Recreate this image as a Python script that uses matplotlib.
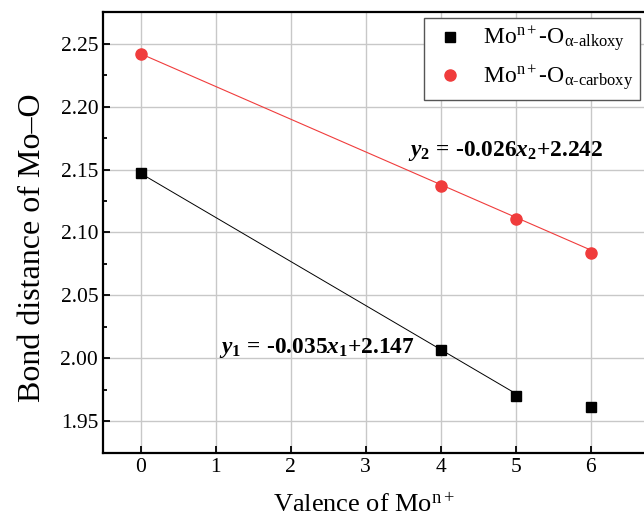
import numpy as np
import matplotlib
matplotlib.use('Agg')
from matplotlib import pyplot as plt

# data
valence = [0, 4, 5, 6]
alkoxy = [2.147, 2.007, 1.970, 1.961]
carboxy = [2.242, 2.137, 2.111, 2.084]

# fitted lines
fit1 = (-0.035, 2.147)
fit2 = (-0.026, 2.242)

plt.rcParams['font.family'] = 'Liberation Serif'
plt.rcParams['mathtext.fontset'] = 'custom'
plt.rcParams['mathtext.rm'] = 'Liberation Serif'
plt.rcParams['mathtext.it'] = 'Liberation Serif:italic'
plt.rcParams['mathtext.bf'] = 'Liberation Serif:bold'
plt.rcParams['mathtext.bfit'] = 'Liberation Serif:italic:bold'

fig = plt.figure(figsize=(6.44, 5.29), dpi=100)
ax = fig.add_axes([0.16, 0.144, 0.845, 0.833])

red = '#f03c3c'

xs1 = np.array([0, 5])
ax.plot(xs1, fit1[0] * xs1 + fit1[1], color='black', lw=0.7, zorder=2)
xs2 = np.array([0, 6])
ax.plot(xs2, fit2[0] * xs2 + fit2[1], color=red, lw=0.8, zorder=2)

ax.plot(valence, alkoxy, 's', color='black', ms=6.5, ls='none', zorder=3,
        label=r'Mo$^{\mathrm{n+}}$-O$_{\mathrm{\alpha\text{-alkoxy}}}$')
ax.plot(valence, carboxy, 'o', color=red, ms=8, ls='none', zorder=3,
        label=r'Mo$^{\mathrm{n+}}$-O$_{\mathrm{\alpha\text{-carboxy}}}$')

ax.text(1.05, 2.008, r'$\mathbfit{y}_\mathbf{1}\mathbf{\,=\,‐0.035}\mathbfit{x}_\mathbf{1}\mathbf{+2.147}$',
        fontsize=16.8, va='center', ha='left')
ax.text(3.56, 2.165, r'$\mathbfit{y}_\mathbf{2}\mathbf{\,=\,‐0.026}\mathbfit{x}_\mathbf{2}\mathbf{+2.242}$',
        fontsize=16.8, va='center', ha='left')

ax.set_xlim(-0.5, 6.75)
ax.set_ylim(1.925, 2.275)
ax.set_xticks(range(0, 7))
ax.set_yticks([1.95, 2.00, 2.05, 2.10, 2.15, 2.20, 2.25])
ax.set_yticks(np.arange(1.925, 2.276, 0.05), minor=True)
ax.set_yticklabels(['1.95', '2.00', '2.05', '2.10', '2.15', '2.20', '2.25'])
ax.tick_params(direction='in', labelsize=15.5, width=1.3, length=5)
ax.tick_params(which='minor', direction='in', width=1.3, length=3)
ax.grid(True, color='#c8c8c8', lw=1)
ax.set_axisbelow(True)
for s in ax.spines.values():
    s.set_linewidth(1.6)

ax.set_xlabel(r'Valence of Mo$^{\mathrm{n+}}$', fontsize=19)
ax.set_ylabel('Bond distance of Mo–O', fontsize=23)
ax.xaxis.set_label_coords(0.48, -0.092)
ax.yaxis.set_label_coords(-0.103, 0.465)

leg = ax.legend(loc='upper right', fontsize=17, fancybox=False, framealpha=1,
                edgecolor='#555555', handletextpad=0.6, handlelength=1.6,
                borderpad=0.3, labelspacing=0.4, borderaxespad=0,
                bbox_to_anchor=(0.987, 0.987))
leg.get_frame().set_linewidth(1)

plt.savefig('out.png', dpi=100)
